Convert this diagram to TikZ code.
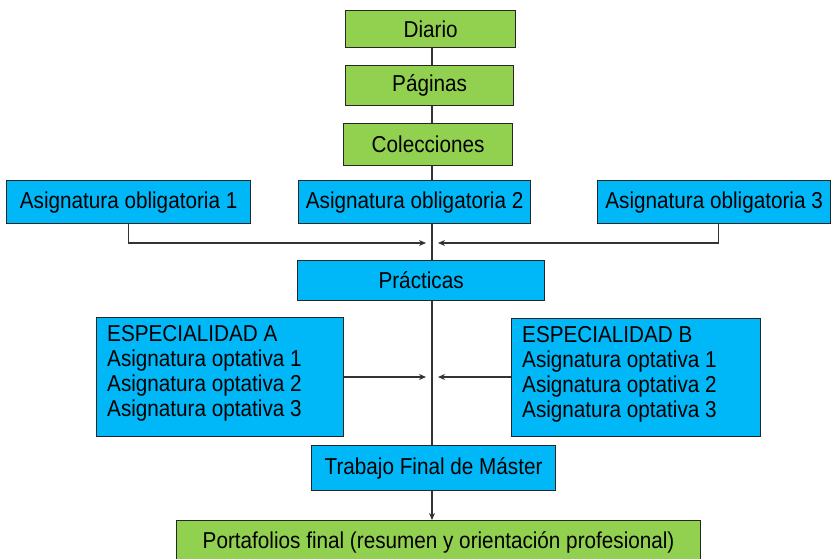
\documentclass[tikz,border=0pt]{standalone}
\usepackage{fontspec}
\setmainfont{Liberation Sans}[FakeStretch=0.9]
\usetikzlibrary{arrows.meta}
\definecolor{bgreen}{HTML}{92D050}
\definecolor{bcyan}{HTML}{00B8F8}
\definecolor{lgray}{HTML}{333333}
\begin{document}
\begin{tikzpicture}[x=1pt,y=-1pt,
  box/.style={draw=black!85, line width=1.2pt, anchor=north west, inner sep=0pt, font=\fontsize{23}{25}\selectfont},
  gbox/.style={box, fill=bgreen},
  cbox/.style={box, fill=bcyan},
  listtext/.style={anchor=north west, inner sep=0pt, align=left, font=\fontsize{23}{25}\selectfont},
  conn/.style={draw=lgray, line width=1.1pt},
  arr/.style={conn, -{Stealth[length=7pt,width=6pt]}}]
\useasboundingbox (0,0) rectangle (832,558);
\begin{scope}
\clip (0,0) rectangle (832,558);
\node[gbox, minimum width=170, minimum height=37] (diario) at (345,10) {Diario};
\node[gbox, minimum width=168, minimum height=40] (pag) at (345,65) {Páginas};
\node[gbox, minimum width=169, minimum height=42] (col) at (343,123) {Colecciones};
\node[cbox, minimum width=244, minimum height=43] (o1) at (6,180) {Asignatura obligatoria 1};
\node[cbox, minimum width=232, minimum height=43] (o2) at (298,180) {Asignatura obligatoria 2};
\node[cbox, minimum width=233, minimum height=43] (o3) at (597,180) {Asignatura obligatoria 3};
\node[cbox, minimum width=247, minimum height=40] (prac) at (297,260) {Prácticas};
\node[cbox, minimum width=247, minimum height=119] (espA) at (96,317) {};
\node[listtext] (espAt) at (107,325) {ESPECIALIDAD A\\Asignatura optativa 1\\Asignatura optativa 2\\Asignatura optativa 3};
\node[cbox, minimum width=249, minimum height=118] (espB) at (511,318) {};
\node[listtext] (espBt) at (522,326) {ESPECIALIDAD B\\Asignatura optativa 1\\Asignatura optativa 2\\Asignatura optativa 3};
\node[cbox, minimum width=244, minimum height=45] (tfm) at (311,445) {Trabajo Final de Máster};
\node[gbox, minimum width=524, minimum height=44] (port) at (176,520) {Portafolios final (resumen y orientación profesional)};
\end{scope}
\coordinate (sp) at (432,0);
\coordinate (jl) at (426,243);
\coordinate (jr) at (438,243);
\coordinate (ja) at (426,377);
\coordinate (jb) at (438,377);
\draw[conn] (diario.south -| sp) -- (pag.north -| sp);
\draw[conn] (pag.south -| sp) -- (col.north -| sp);
\draw[conn] (col.south -| sp) -- (o2.north -| sp);
\draw[conn] (o2.south -| sp) -- (prac.north -| sp);
\draw[conn] (prac.south -| sp) -- (tfm.north -| sp);
\draw[arr] (tfm.south -| sp) -- (port.north -| sp);
\draw[arr] (o1.south) |- (jl);
\draw[arr] ([xshift=4]o3.south) |- (jr);
\draw[arr] (espA.east |- ja) -- (ja);
\draw[arr] (espB.west |- jb) -- (jb);
\end{tikzpicture}
\end{document}
